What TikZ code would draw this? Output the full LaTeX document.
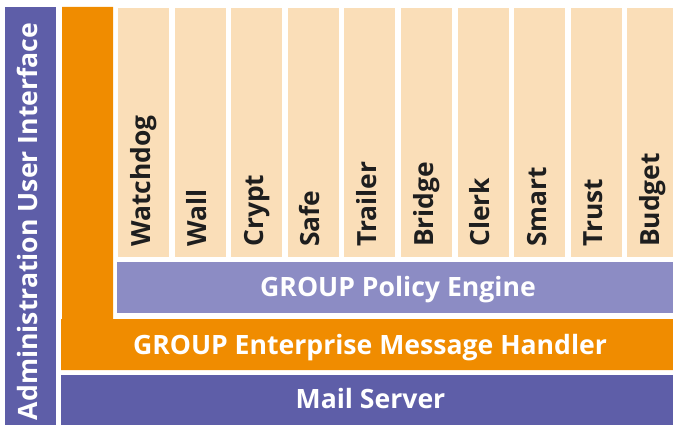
\documentclass[tikz,border=0pt]{standalone}
\usepackage{fontspec}
\setmainfont{Open Sans}
\definecolor{darkpurple}{HTML}{5E5EA8}
\definecolor{lightpurple}{HTML}{8C8CC4}
\definecolor{gorange}{HTML}{F08C00}
\definecolor{peach}{HTML}{FADEB8}
\definecolor{labeltext}{HTML}{1E1E1E}
\tikzset{
  bartext/.style={font=\fontsize{26.6}{30}\selectfont\bfseries, text=white, inner sep=0pt, anchor=base},
  coltext/.style={font=\fontsize{26.4}{30}\selectfont\bfseries, text=labeltext, inner sep=0pt, rotate=90, anchor=base west},
}
\begin{document}
\begin{tikzpicture}[x=1pt,y=-1pt]
\useasboundingbox (0,0) rectangle (673,425);
\clip (0,0) rectangle (673,425);
% admin bar
\fill[darkpurple] (5,7) rectangle (56,425);
\node[bartext, rotate=90] (admin) at (37.5,221.5) {Administration User Interface};
% orange L
\fill[gorange] (62,7) -- (113,7) -- (113,319) -- (680,319) -- (680,370) -- (61,370) -- (61,319) -- (62,319) -- cycle;
\node[bartext] (handler) at (370,354) {GROUP Enterprise Message Handler};
% mail server
\fill[darkpurple] (61,375) rectangle (680,425);
\node[bartext] (mail) at (370.5,408) {Mail Server};
% policy engine
\fill[lightpurple] (117,262) rectangle (680,313);
\node[bartext] (policy) at (398,297) {GROUP Policy Engine};
% columns
\foreach \name [count=\i from 0] in {Watchdog,Wall,Crypt,Safe,Trailer,Bridge,Clerk,Smart,Trust,Budget}{
  \fill[peach] ({118+56.6*\i},8) rectangle ({169+56.6*\i},257);
  \node[coltext] (c\i) at ({150+56.6*\i},247) {\name};
}
\end{tikzpicture}
\end{document}
